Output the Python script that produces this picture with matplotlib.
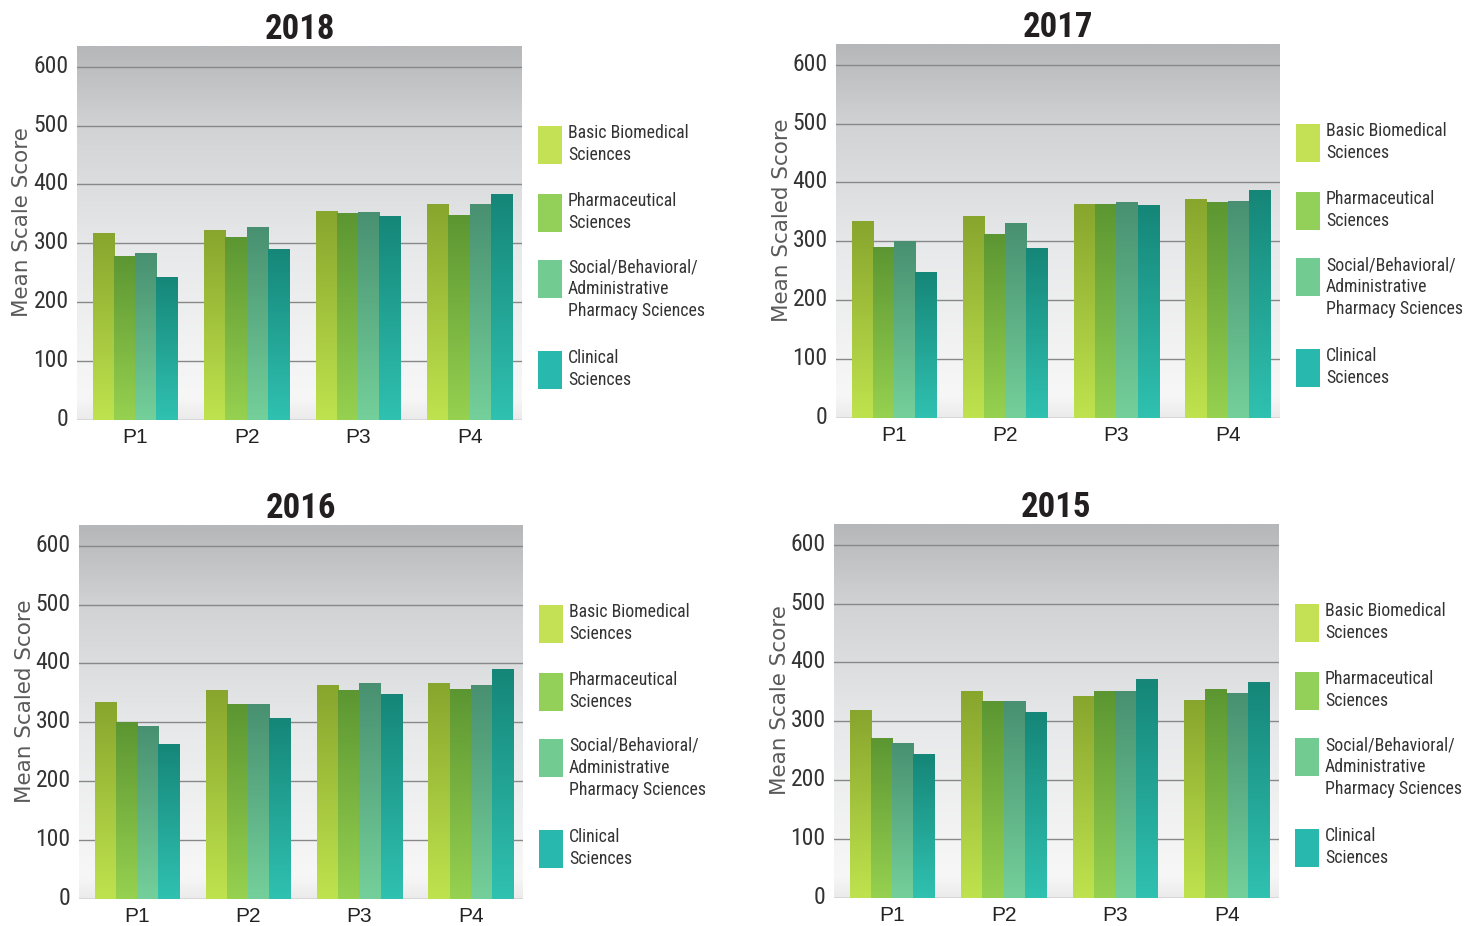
import numpy as np
import matplotlib.pyplot as plt
import matplotlib.transforms as mtransforms
from matplotlib.colors import LinearSegmentedColormap
from matplotlib.patches import Rectangle

# Data
categories = ['P1', 'P2', 'P3', 'P4']
years = ['2018', '2017', '2016', '2015']
series = ['Basic Biomedical\nSciences',
          'Pharmaceutical\nSciences',
          'Social/Behavioral/\nAdministrative\nPharmacy Sciences',
          'Clinical\nSciences']
y_titles = ['Mean Scale Score', 'Mean Scaled Score', 'Mean Scaled Score', 'Mean Scale Score']

# one row per year (2018, 2017, 2016, 2015), one value per P1..P4
basic = [[318, 323, 355, 367], [335, 343, 363, 372], [335, 355, 363, 367], [319, 351, 343, 336]]
pharm = [[279, 311, 351, 348], [291, 312, 364, 367], [300, 331, 355, 356], [272, 334, 351, 355]]
social = [[283, 327, 354, 367], [300, 331, 367, 369], [293, 331, 367, 363], [264, 334, 351, 348]]
clinical = [[243, 291, 347, 383], [248, 288, 361, 387], [264, 307, 348, 391], [244, 315, 371, 367]]

# colours: bottom -> top gradient of each bar, flat legend swatches
bar_bottom = ['#bfe34e', '#96d150', '#74d09a', '#30c1b1']
bar_top = ['#88a52d', '#5c9632', '#489071', '#158678']
legend_colors = ['#c4e155', '#93d05a', '#72cc92', '#29b8ae']

narrow = ['Roboto Condensed', 'IBM Plex Sans Condensed', 'DejaVu Sans']
W, H = 1464, 926
fig = plt.figure(figsize=(W / 100, H / 100), dpi=100)

# axes boxes in pixels: left, right, top, bottom
panels = [(77, 522, 46, 420), (836, 1280, 44, 418), (79, 523, 525, 899), (834, 1279, 524, 898)]
legend_off = [80, 148, 214, 305]

bg_cmap = LinearSegmentedColormap.from_list(
    'bg', [(0, '#ebebeb'), (0.06, '#f7f7f7'), (0.45, '#e8e9ea'), (0.78, '#d2d3d5'), (1, '#b5b7b9')])

for k, yr in enumerate(years):
    l, r, t, b = panels[k]
    ax = fig.add_axes([l / W, 1 - b / H, (r - l) / W, (b - t) / H])

    # grey gradient background
    ax.imshow(np.linspace(0, 1, 256).reshape(-1, 1), cmap=bg_cmap, origin='lower',
              aspect='auto', extent=[0, 1, 0, 1], transform=ax.transAxes, zorder=0)

    x = np.arange(len(categories))
    w = 0.19
    data = [basic[k], pharm[k], social[k], clinical[k]]
    for i in range(4):
        bars = ax.bar(x + (i - 1.5) * w, data[i], w, color='none', linewidth=0, zorder=2)
        cmap = LinearSegmentedColormap.from_list('s%d' % i, [bar_bottom[i], bar_top[i]])
        for bar in bars:
            x0 = bar.get_x()
            h = bar.get_height()
            im = ax.imshow(np.linspace(0, 1, 200).reshape(-1, 1), cmap=cmap, origin='lower',
                           aspect='auto', extent=[x0, x0 + w, 0, h], zorder=2)
            im.set_clip_path(bar)

    ax.set_xlim(-0.52, 3.47)
    ax.set_ylim(0, 635)
    ax.set_yticks(range(0, 601, 100))
    ax.set_xticks(x, categories)
    ax.grid(axis='y', color='#888888', linewidth=1)
    ax.set_axisbelow(True)
    for s in ax.spines.values():
        s.set_visible(False)
    ax.tick_params(length=0)
    ax.tick_params(axis='y', pad=6, labelsize=17, labelcolor='#333333')
    ax.tick_params(axis='x', pad=6, labelsize=15, labelcolor='#222222')
    shift = mtransforms.ScaledTranslation(0, 3 / 100, fig.dpi_scale_trans)
    for lbl in ax.get_yticklabels():
        lbl.set_family(narrow)
        lbl.set_transform(lbl.get_transform() + shift)
    for lbl in ax.get_xticklabels():
        lbl.set_family(['Liberation Sans', 'DejaVu Sans'])

    ax.set_ylabel(y_titles[k], fontsize=15.5, color='#5a5a5a')
    ax.yaxis.set_label_coords(-0.10, 0.53)
    ax.set_title(yr, fontsize=25, fontweight='bold', family=narrow, color='#231f20', pad=5)

    # legend to the right of each panel
    for i in range(4):
        top = t + legend_off[i]
        fig.add_artist(Rectangle(((r + 16) / W, 1 - (top + 38) / H), 24 / W, 38 / H,
                                 transform=fig.transFigure, facecolor=legend_colors[i],
                                 edgecolor='none'))
        fig.text((r + 46) / W, 1 - (top - 2) / H, series[i], va='top', ha='left',
                 fontsize=12.8, family=narrow, color='#333333', linespacing=1.3)

plt.savefig('out.png', dpi=100)
